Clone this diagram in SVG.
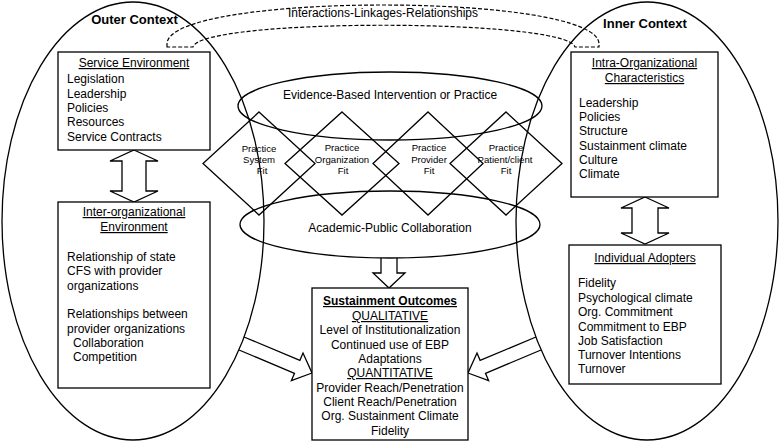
<svg xmlns="http://www.w3.org/2000/svg" width="780" height="443" viewBox="0 0 780 443">
<style>
text{font-family:"Liberation Sans",Arial,Helvetica,sans-serif;font-size:12px;fill:#000}
.c{text-anchor:middle}
.u{text-decoration:underline}
.b{font-weight:bold}
.t{font-size:13px;font-weight:bold;text-anchor:middle}
.d{font-size:9.6px;text-anchor:middle}
.ln{fill:none;stroke:#000;stroke-width:1.3}
.box{fill:#fff;stroke:#000;stroke-width:1.3}
.arr{fill:#fff;stroke:#000;stroke-width:1.3;stroke-linejoin:miter}
.dash{fill:none;stroke:#000;stroke-width:1.2;stroke-dasharray:4 2}
</style>
<rect width="780" height="443" fill="#fff"/>

<g id="connectors">
  <path class="dash" d="M167,47 L167,44 C167,-8 599,-8 599,44 L599,47 L575,47 C566,18 200,18 193,47 Z"/>
  <text class="c" x="383" y="17">Interactions-Linkages-Relationships</text>
  <polygon class="arr" points="134,150 158,161 146,161 146,191 158,191 134,202 110,191 122,191 122,161 110,161"/>
  <polygon class="arr" points="645,197 669,208 658,208 658,233 669,233 645,244 621,233 632,233 632,208 621,208"/>
  <path class="arr" d="M381,258 L381,273 L373,273 L389,288 L405,273 L397,273 L397,258"/>
  <path class="arr" d="M244,337 L299.9,360.3 L303,353 L312,373 L291.4,380.6 L294.5,373.3 L239,350"/>
  <path class="arr" d="M536,337 L480.1,360.3 L477,353 L468,373 L488.6,380.6 L485.5,373.3 L541,350"/>
</g>

<g id="outer-context">
  <ellipse class="ln" cx="133" cy="221" rx="131" ry="219"/>
  <text class="t" x="134.5" y="24">Outer Context</text>
</g>

<g id="inner-context">
  <ellipse class="ln" cx="647" cy="221" rx="131" ry="219"/>
  <text class="t" x="645" y="28">Inner Context</text>
</g>

<g id="evidence-based-practice">
  <ellipse class="ln" cx="390" cy="106" rx="152" ry="34"/>
  <text class="c" x="390" y="99">Evidence-Based Intervention or Practice</text>
</g>

<g id="academic-public-collaboration">
  <ellipse class="ln" cx="390" cy="224.5" rx="150" ry="33.5"/>
  <text class="c" x="390" y="232">Academic-Public Collaboration</text>
</g>

<g id="practice-system-fit">
  <polygon class="ln" points="259,112 315,163.5 259,215 203,163.5"/>
  <text class="d" x="259" y="152">Practice</text>
  <text class="d" x="259" y="163">System</text>
  <text class="d" x="262" y="174">Fit</text>
</g>

<g id="practice-organization-fit">
  <polygon class="ln" points="342,112 399,163.5 342,215 285,163.5"/>
  <text class="d" x="342" y="151">Practice</text>
  <text class="d" x="342" y="163">Organization</text>
  <text class="d" x="343" y="174">Fit</text>
</g>

<g id="practice-provider-fit">
  <polygon class="ln" points="428,112 483,163.5 428,215 373,163.5"/>
  <text class="d" x="429" y="151">Practice</text>
  <text class="d" x="429" y="163">Provider</text>
  <text class="d" x="429" y="174">Fit</text>
</g>

<g id="practice-patient-client-fit">
  <polygon class="ln" points="506,112 562,163.5 506,215 450,163.5"/>
  <text class="d" x="506" y="151">Practice</text>
  <text class="d" x="505" y="163">Patient/client</text>
  <text class="d" x="506" y="174">Fit</text>
</g>

<g id="service-environment">
  <rect class="box" x="58" y="52" width="152" height="98"/>
  <text class="c u" x="134" y="67">Service Environment</text>
  <text x="67" y="83">Legislation</text>
  <text x="67" y="97.5">Leadership</text>
  <text x="67" y="112">Policies</text>
  <text x="67" y="126">Resources</text>
  <text x="67" y="140.5">Service Contracts</text>
</g>

<g id="inter-organizational-environment">
  <rect class="box" x="58" y="202" width="152" height="186"/>
  <text class="c u" x="134" y="216">Inter-organizational</text>
  <text class="c u" x="134" y="231">Environment</text>
  <text x="67" y="261">Relationship of state</text>
  <text x="67" y="275.3">CFS with provider</text>
  <text x="67" y="289.6">organizations</text>
  <text x="67" y="318.2">Relationships between</text>
  <text x="67" y="332.5">provider organizations</text>
  <text x="73" y="346.8">Collaboration</text>
  <text x="73" y="361">Competition</text>
</g>

<g id="intra-organizational-characteristics">
  <rect class="box" x="571" y="52" width="147" height="145"/>
  <text class="c u" x="644.5" y="67">Intra-Organizational</text>
  <text class="c u" x="644.5" y="82">Characteristics</text>
  <text x="579" y="107">Leadership</text>
  <text x="579" y="121">Policies</text>
  <text x="579" y="135">Structure</text>
  <text x="579" y="149.5">Sustainment climate</text>
  <text x="579" y="163.5">Culture</text>
  <text x="579" y="178">Climate</text>
</g>

<g id="individual-adopters">
  <rect class="box" x="569" y="245" width="152" height="139"/>
  <text class="c u" x="645" y="262">Individual Adopters</text>
  <text x="578" y="287">Fidelity</text>
  <text x="578" y="301.5">Psychological climate</text>
  <text x="578" y="316">Org. Commitment</text>
  <text x="578" y="330.5">Commitment to EBP</text>
  <text x="578" y="344.5">Job Satisfaction</text>
  <text x="578" y="359">Turnover Intentions</text>
  <text x="578" y="373">Turnover</text>
</g>

<g id="sustainment-outcomes">
  <rect class="box" x="312" y="288" width="156" height="152"/>
  <text class="c u b" x="390" y="305">Sustainment Outcomes</text>
  <text class="c u" x="390" y="320">QUALITATIVE</text>
  <text class="c" x="390" y="334">Level of Institutionalization</text>
  <text class="c" x="390" y="348.5">Continued use of EBP</text>
  <text class="c" x="390" y="363">Adaptations</text>
  <text class="c u" x="390" y="377">QUANTITATIVE</text>
  <text class="c" x="390" y="391.5">Provider Reach/Penetration</text>
  <text class="c" x="390" y="406">Client Reach/Penetration</text>
  <text class="c" x="390" y="420">Org. Sustainment Climate</text>
  <text class="c" x="390" y="434.5">Fidelity</text>
</g>
</svg>
